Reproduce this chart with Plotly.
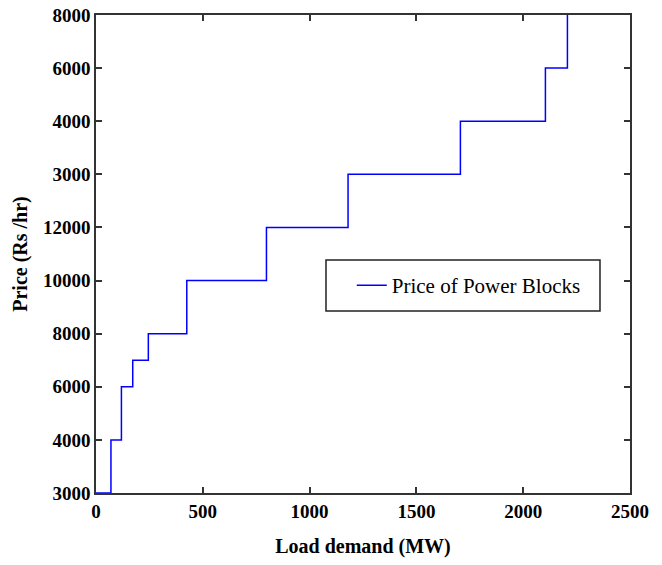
import plotly.graph_objects as go

# Step breakpoints (MW) and price levels (as axis tick positions)
load_mw = [0, 70, 119, 172, 245, 425, 798, 1180, 1706, 2104, 2207]
price_level = [0, 1, 2, 2.5, 3, 4, 5, 6, 7, 8, 9]
y_tick_labels = ["3000", "4000", "6000", "8000", "10000", "12000",
                 "3000", "4000", "6000", "8000"]
x_ticks = [0, 500, 1000, 1500, 2000, 2500]

FONT = "Liberation Serif"

fig = go.Figure()
fig.add_trace(go.Scatter(
    x=load_mw, y=price_level, mode="lines", line_shape="hv",
    line=dict(color="#0000ff", width=1.5),
    name="Price of Power Blocks"))

axis_common = dict(
    showline=True, linecolor="#333333", linewidth=1.5, mirror="ticks",
    ticks="inside", ticklen=6, tickwidth=1.5, tickcolor="#333333",
    showgrid=False, zeroline=False, automargin=False,
    ticklabeloverflow="allow",
    tickfont=dict(family=FONT, size=19, color="black", weight="bold"),
)

fig.update_layout(
    width=662, height=565,
    margin=dict(l=88, r=40, t=7, b=80),
    paper_bgcolor="white", plot_bgcolor="white",
    xaxis=dict(range=[0, 2500], tickvals=x_ticks,
               title=dict(text="Load demand (MW)",
                          font=dict(family=FONT, size=20, color="black", weight="bold"),
                          standoff=18),
               **axis_common),
    yaxis=dict(range=[0, 9], tickvals=list(range(len(y_tick_labels))),
               ticktext=y_tick_labels,
               title=dict(text="Price (Rs /hr)",
                          font=dict(family=FONT, size=20, color="black", weight="bold"),
                          standoff=10),
               **axis_common),
    showlegend=True,
    legend=dict(x=0.479, y=0.434, xanchor="left", yanchor="middle",
                borderwidth=0, bgcolor="rgba(0,0,0,0)",
                font=dict(family=FONT, size=21, color="black")),
    shapes=[dict(type="rect", xref="paper", yref="paper",
                 x0=0.4307, x1=0.9438, y0=0.3808, y1=0.4874,
                 line=dict(color="#222222", width=1.5))],
)

fig.write_html("out.html")
